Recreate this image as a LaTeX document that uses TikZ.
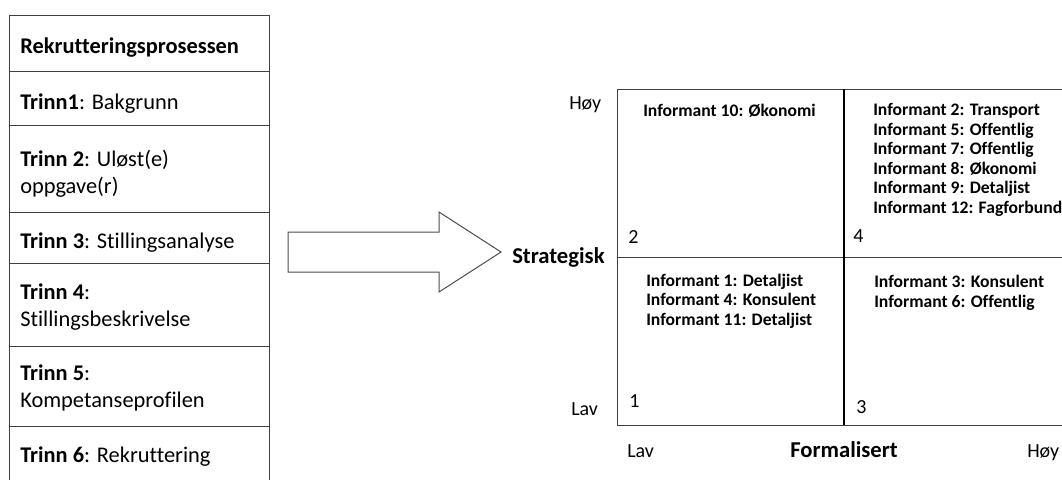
\documentclass[tikz,border=0pt]{standalone}
\usepackage{fontspec}
\setmainfont{Carlito}[Ligatures=NoCommon]
\usepackage{tikz}

\begin{document}
\begin{tikzpicture}[x=0.75pt,y=0.75pt,yscale=-1,xscale=1,
  cell/.style={anchor=base west,inner sep=0pt,align=left,font=\fontsize{16.8}{20.25}\selectfont},
  inf/.style={anchor=base west,inner sep=0pt,align=left,font=\fontsize{13.2}{14.6}\selectfont\bfseries},
  num/.style={anchor=base west,inner sep=0pt,font=\fontsize{15}{18}\selectfont},
  axis/.style={anchor=base west,inner sep=0pt,font=\fontsize{15}{18}\selectfont},
  rule/.style={draw=black!75,line width=0.75}]
\useasboundingbox (0,0) rectangle (1062,480);

%Table [Rekrutteringsprosessen]
\draw [rule] (9,480) -- (9,15) -- (269,15) -- (269,480) ;
\foreach \yy in {71,125,212,263,346,426}
  \draw [rule] (9,\yy) -- (269,\yy) ;

% Text Node
\node [cell] (hdr) at (20,53) {\textbf{Rekrutteringsprosessen}};
% Text Node
\node [cell] (trinn1) at (20,109) {\textbf{Trinn1}: Bakgrunn};
% Text Node (base = last line)
\node [cell] (trinn2) at (20,193) {\textbf{Trinn 2}: Uløst(e)\\oppgave(r)};
% Text Node
\node [cell] (trinn3) at (20,248) {\textbf{Trinn 3}: Stillingsanalyse};
% Text Node
\node [cell] (trinn4) at (20,326) {\textbf{Trinn 4}:\\Stillingsbeskrivelse};
% Text Node
\node [cell] (trinn5) at (20,407) {\textbf{Trinn 5}:\\Kompetanseprofilen};
% Text Node
\node [cell] (trinn6) at (20,462) {\textbf{Trinn 6}: Rekruttering};

%Shape: Right Arrow
\draw [draw=black!70,line width=0.75] (288,232) -- (439,232) -- (439,212) -- (501,252) -- (439,292) -- (439,272) -- (288,272) -- cycle ;

%Straight Lines [matrix]
\draw [rule] (1062,89) -- (617,89) -- (617,425) -- (1062,425) ;
\draw [rule] (617,257) -- (1062,257) ;
\draw [draw=black,line width=1.1] (844,89) -- (844,425) ;

% Text Node
\node [inf] (q2txt) at (643,116) {Informant 10: Økonomi};
% Text Node
\node [inf] (q4txt) at (873,213) {Informant 2: Transport\\Informant 5: Offentlig\\Informant 7: Offentlig\\Informant 8: Økonomi\\Informant 9: Detaljist\\Informant 12: Fagforbund};
% Text Node
\node [inf] (q1txt) at (646,325) {Informant 1: Detaljist\\Informant 4: Konsulent\\Informant 11: Detaljist};
% Text Node
\node [inf] (q3txt) at (874,307) {Informant 3: Konsulent\\Informant 6: Offentlig};

% Text Node
\node [num] (n2) at (628,243) {2};
% Text Node
\node [num] (n4) at (853,242) {4};
% Text Node
\node [num] (n1) at (629,407) {1};
% Text Node
\node [num] (n3) at (856,413) {3};

% Text Node
\node [axis] (yhigh) at (569,109) {Høy};
% Text Node
\node [axis,font=\fontsize{17}{20}\selectfont\bfseries] (ylab) at (512,263) {Strategisk};
% Text Node
\node [axis] (ylow) at (571,415) {Lav};
% Text Node
\node [axis] (xlow) at (627,457) {Lav};
% Text Node
\node [axis,font=\fontsize{17}{20}\selectfont\bfseries] (xlab) at (790,457) {Formalisert};
% Text Node
\node [axis] (xhigh) at (1027,457) {Høy};

\end{tikzpicture}
\end{document}
